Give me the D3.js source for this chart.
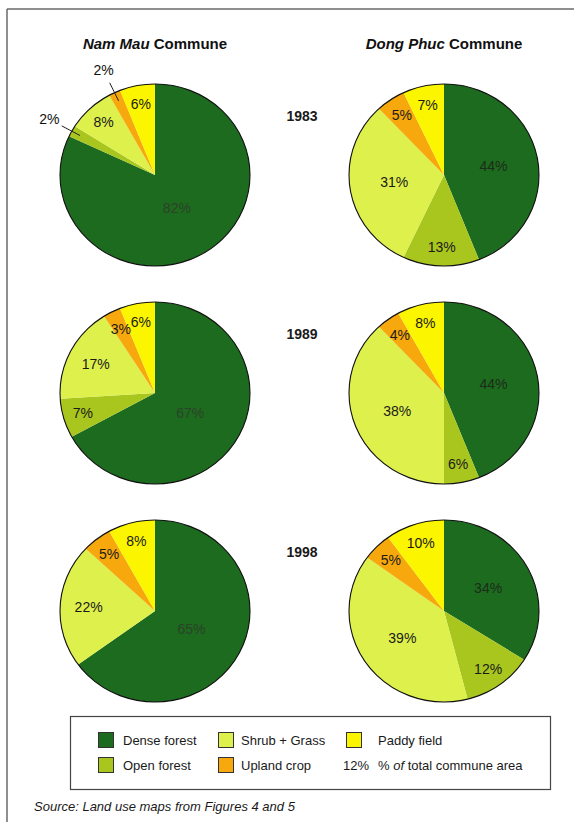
<!DOCTYPE html>
<html>
<head>
<meta charset="utf-8">
<script src="https://cdn.jsdelivr.net/npm/d3@7"></script>
<style>
  html, body { margin: 0; padding: 0; background: #fff; }
  svg { display: block; font-family: "Liberation Sans", Arial, sans-serif; }
</style>
</head>
<body>
<svg id="chart" width="574" height="822"></svg>
<script>
// Land use shares (% of total commune area)
const communes = ["Nam Mau", "Dong Phuc"];
const years = ["1983", "1989", "1998"];
const categories = ["Dense forest", "Open forest", "Shrub + Grass", "Upland crop", "Paddy field"];
// one row per year, values follow the category order
const namMauValues = [
  [82, 2, 8, 2, 6],
  [67, 7, 17, 3, 6],
  [65, 0, 22, 5, 8]
];
const dongPhucValues = [
  [44, 13, 31, 5, 7],
  [44, 6, 38, 4, 8],
  [34, 12, 39, 5, 10]
];
const legendExample = "12%";

const colors = ["#1d6b1f", "#a9c61f", "#def04c", "#f6a80c", "#fbf500"];
const svg = d3.select("#chart");

// page frame
svg.append("line").attr("x1", 7).attr("y1", 9).attr("x2", 574).attr("y2", 9)
  .attr("stroke", "#6a6a6a").attr("stroke-width", 1.5);
svg.append("line").attr("x1", 7).attr("y1", 9).attr("x2", 7).attr("y2", 822)
  .attr("stroke", "#6a6a6a").attr("stroke-width", 1.5);

const x = d3.scalePoint().domain(communes).range([155, 444]);
const y = d3.scalePoint().domain(years).range([175, 611]);
const rx = 95, ry = 91;

// column titles
communes.forEach(c => {
  const t = svg.append("text").attr("x", x(c)).attr("y", 49)
    .attr("text-anchor", "middle").attr("font-size", 15).attr("font-weight", "bold").attr("fill", "#111");
  t.append("tspan").attr("font-style", "italic").text(c);
  t.append("tspan").text(" Commune");
});

// year labels
years.forEach(yr => {
  svg.append("text").attr("x", 302).attr("y", y(yr) - 54)
    .attr("text-anchor", "middle").attr("font-size", 14).attr("font-weight", "bold")
    .attr("fill", "#1a1a1a").text(yr);
});

const pie = d3.pie().sort(null).value(d => d);
const arc = d3.arc().innerRadius(0).outerRadius(rx);

function polar(cx, cy, a, f) {
  return [cx + Math.sin(a) * rx * f, cy - Math.cos(a) * ry * f];
}

function drawPie(commune, values, yr) {
  const cx = x(commune), cy = y(yr);
  const arcs = pie(values);
  const g = svg.append("g").attr("transform", `translate(${cx},${cy}) scale(1,${ry / rx})`);
  g.selectAll("path").data(arcs).join("path")
    .attr("d", arc).attr("fill", (d, i) => colors[i]);
  g.append("circle").attr("r", rx).attr("fill", "none")
    .attr("stroke", "#111").attr("stroke-width", 1.1).attr("vector-effect", "non-scaling-stroke");

  arcs.forEach((a, i) => {
    const v = a.data;
    if (v <= 0) return;
    const mid = (a.startAngle + a.endAngle) / 2;
    const label = v + "%";
    if (v <= 2) {
      // small slice: label outside with a leader line
      const p0 = polar(cx, cy, mid, 0.9), p1 = polar(cx, cy, mid, 1.12), p2 = polar(cx, cy, mid, 1.27);
      svg.append("line").attr("x1", p0[0]).attr("y1", p0[1]).attr("x2", p1[0]).attr("y2", p1[1])
        .attr("stroke", "#222").attr("stroke-width", 1);
      svg.append("text").attr("x", p2[0]).attr("y", p2[1]).attr("dy", "0.35em")
        .attr("text-anchor", "middle").attr("font-size", 14).attr("fill", "#111").text(label);
      return;
    }
    const f = v >= 60 ? 0.43 : v >= 30 ? 0.53 : v >= 15 ? 0.7 : 0.79;
    const p = polar(cx, cy, mid, f);
    svg.append("text").attr("x", p[0]).attr("y", p[1]).attr("dy", "0.35em")
      .attr("text-anchor", "middle").attr("font-size", 14)
      .attr("fill", i === 0 ? (commune === "Nam Mau" ? "#2c4229" : "#1c2c1a") : "#1a1a1a")
      .text(label);
  });
}

years.forEach((yr, k) => {
  drawPie("Nam Mau", namMauValues[k], yr);
  drawPie("Dong Phuc", dongPhucValues[k], yr);
});

// legend
const lg = svg.append("g");
lg.append("rect").attr("x", 70.5).attr("y", 716.5).attr("width", 480).attr("height", 73)
  .attr("fill", "#fff").attr("stroke", "#444").attr("stroke-width", 1.2);
const legendPos = [
  { sx: 98, tx: 123, cy: 740 },
  { sx: 98, tx: 123, cy: 765 },
  { sx: 218, tx: 241, cy: 740 },
  { sx: 218, tx: 241, cy: 765 },
  { sx: 346, tx: 378, cy: 740 }
];
categories.forEach((c, i) => {
  const p = legendPos[i];
  lg.append("rect").attr("x", p.sx + 0.5).attr("y", p.cy - 7.5).attr("width", 15).attr("height", 15)
    .attr("fill", colors[i]).attr("stroke", "#333").attr("stroke-width", 1);
  lg.append("text").attr("x", p.tx).attr("y", p.cy).attr("dy", "0.35em")
    .attr("font-size", 13).attr("fill", "#1a1a1a").text(c);
});
lg.append("text").attr("x", 343).attr("y", 765).attr("dy", "0.35em")
  .attr("font-size", 13).attr("fill", "#1a1a1a").text(legendExample);
const note = lg.append("text").attr("x", 378).attr("y", 765).attr("dy", "0.35em")
  .attr("font-size", 13).attr("fill", "#1a1a1a");
note.append("tspan").text("% ");
note.append("tspan").attr("font-style", "italic").text("of");
note.append("tspan").text(" total commune area");

// source note
svg.append("text").attr("x", 34).attr("y", 811).attr("font-size", 13)
  .attr("font-style", "italic").attr("fill", "#1a1a1a")
  .text("Source: Land use maps from Figures 4 and 5");
</script>
</body>
</html>
